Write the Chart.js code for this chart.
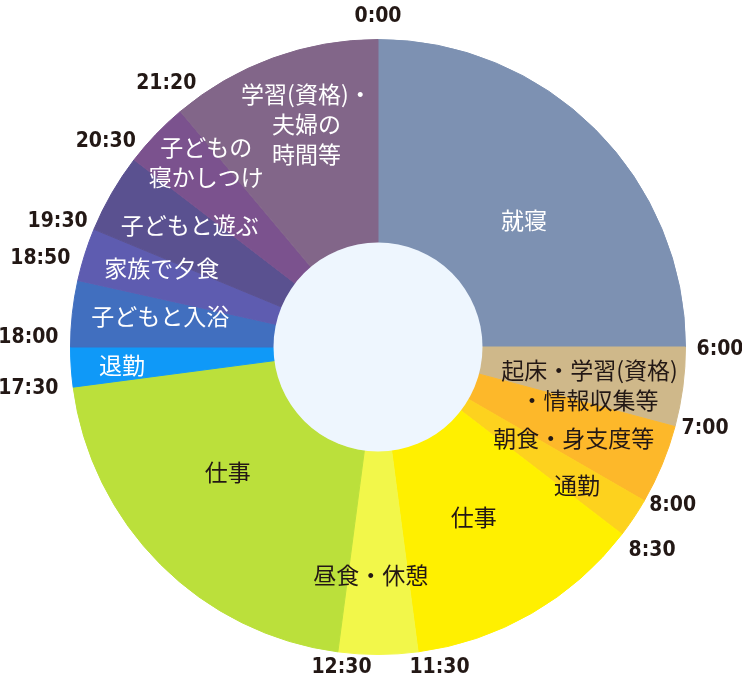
<!DOCTYPE html>
<html lang="ja">
<head>
<meta charset="utf-8">
<title>1日のスケジュール</title>
<script src="https://cdn.jsdelivr.net/npm/chart.js@4.4.1/dist/chart.umd.min.js"></script>
<style>
  html, body { margin: 0; padding: 0; background: #fff; }
  #wrap { width: 742px; height: 687px; }
</style>
</head>
<body>
<div id="wrap"><canvas id="dayChart" width="742" height="687"></canvas></div>
<script>
// 1日の過ごし方（分）
const categories = [
    ['就寝'],
    ['起床・学習(資格)', '・情報収集等'],
    ['朝食・身支度等'],
    ['通勤'],
    ['仕事'],
    ['昼食・休憩'],
    ['仕事'],
    ['退勤'],
    ['子どもと入浴'],
    ['家族で夕食'],
    ['子どもと遊ぶ'],
    ['子どもの', '寝かしつけ'],
    ['学習(資格)・', '夫婦の', '時間等']
];
const minutes = [360, 60, 60, 30, 180, 60, 300, 30, 50, 40, 60, 50, 160];
const timeLabels = ['0:00', '6:00', '7:00', '8:00', '8:30', '11:30', '12:30',
    '17:30', '18:00', '18:50', '19:30', '20:30', '21:20'];

// 色と文字色
const colors = ['#7d91b2', '#cfb88a', '#fdb82a', '#fdd21e', '#fff000', '#f2f74a', '#bbe03b',
    '#0f99f8', '#416fbf', '#5e5cb0', '#5a5190', '#7b528e', '#826689'];
const textColors = ['#fff', '#231815', '#231815', '#231815', '#231815', '#231815', '#231815',
    '#fff', '#fff', '#fff', '#fff', '#fff', '#fff'];
// ラベル位置の微調整 [角度のずれ(度), リング内の位置 0〜1]
const labelPlace = [[4, 0.44], [2.7, 0.545], [2.4, 0.55], [1.05, 0.68], [0.7, 0.45], [1.8, 0.61],
    [5.2, 0.45], [-0.25, 0.75], [1.85, 0.57], [2.5, 0.62], [2.8, 0.59], [3.4, 0.73], [2.2, 0.64]];
// 時刻ラベルのずらし [x, y]
const timeNudge = [[0, -1], [-1, 3], [-6, -8], [-4, -14], [1, -6], [18, -10], [7, -10],
    [-2, -4], [0, -9], [5, -12], [4, 9], [5, 7], [11, 2]];

// リング内の文字・時刻・中央の円
const ringText = {
    id: 'ringText',
    afterDatasetsDraw(chart) {
        const ctx = chart.ctx;
        const arcs = chart.getDatasetMeta(0).data;
        const cx = arcs[0].x, cy = arcs[0].y;
        const inner = arcs[0].innerRadius, outer = arcs[0].outerRadius;

        ctx.save();
        // 中央の円
        ctx.fillStyle = '#eef6fe';
        ctx.beginPath();
        ctx.arc(cx, cy, inner + 0.5, 0, Math.PI * 2);
        ctx.fill();

        // 項目名
        ctx.font = '23px "Noto Sans CJK JP"';
        ctx.textAlign = 'center';
        ctx.textBaseline = 'middle';
        arcs.forEach((arc, i) => {
            const mid = (arc.startAngle + arc.endAngle) / 2 + labelPlace[i][0] * Math.PI / 180;
            const r = inner + (outer - inner) * labelPlace[i][1];
            const x = cx + Math.cos(mid) * r;
            const y = cy + Math.sin(mid) * r;
            const lines = categories[i];
            ctx.fillStyle = textColors[i];
            lines.forEach((line, k) => {
                ctx.fillText(line, x, y + (k - (lines.length - 1) / 2) * 30);
            });
        });

        // 時刻
        ctx.font = 'bold 21px "DejaVu Sans Condensed", "DejaVu Sans", sans-serif';
        ctx.fontStretch = 'condensed';
        ctx.fillStyle = '#231815';
        arcs.forEach((arc, i) => {
            const a = arc.startAngle;
            const w = ctx.measureText(timeLabels[i]).width;
            const r = outer + 12 + Math.abs(Math.cos(a)) * w / 2 + Math.abs(Math.sin(a)) * 10;
            ctx.fillText(timeLabels[i],
                cx + Math.cos(a) * r + timeNudge[i][0],
                cy + Math.sin(a) * r + timeNudge[i][1]);
        });
        ctx.restore();
    }
};

const dayChart = new Chart(document.getElementById('dayChart'), {
    type: 'doughnut',
    data: {
        labels: categories,
        datasets: [{
            data: minutes,
            backgroundColor: colors,
            borderColor: colors,
            borderWidth: 1
        }]
    },
    options: {
        responsive: false,
        animation: false,
        cutout: 104,
        layout: {
            padding: { left: 70, right: 56, top: 39, bottom: 32 }
        },
        plugins: {
            legend: { display: false },
            tooltip: { enabled: false }
        }
    },
    plugins: [ringText]
});
</script>
</body>
</html>
